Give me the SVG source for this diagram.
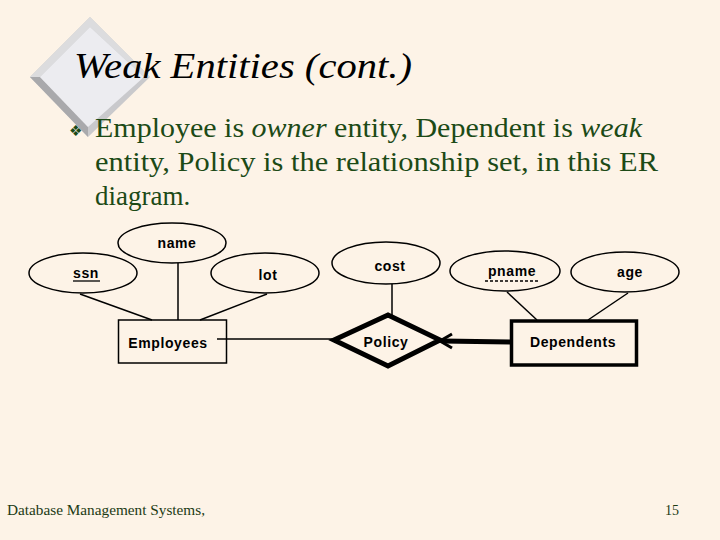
<svg xmlns="http://www.w3.org/2000/svg" width="720" height="540" viewBox="0 0 720 540">
<style>
.er{font-family:"Liberation Sans",Arial,sans-serif;font-size:14px;font-weight:bold;letter-spacing:0.6px;fill:#000;text-anchor:middle}
.ln{stroke:#000;stroke-width:1.5;fill:none}
.body{font-family:"Liberation Serif","Times New Roman",serif;font-size:27px;fill:#1c4a16}
.foot{font-family:"Liberation Serif","Times New Roman",serif;font-size:14px;fill:#1c3a14}
</style>
<rect x="0" y="0" width="720" height="540" fill="#fdf3e7"/>
<g id="deco">
<polygon points="90,17 150,77 88,137 30,77" fill="#c9c9cc"/>
<polygon points="90,17 150,77 144,77 90,27 40,77 30,77" fill="#dcdcde"/>
<polygon points="30,77 88,137 88,127 40,77" fill="#a9a9ac"/>
<polygon points="90,27 144,77 88,127 40,77" fill="#ececf0"/>
</g>
<text id="title" x="74" y="78" font-family="'Liberation Serif','Times New Roman',serif" font-style="italic" font-size="36" fill="#000" textLength="338" lengthAdjust="spacingAndGlyphs">Weak Entities (cont.)</text>
<g id="bullet">
<text x="69" y="136" font-family="'DejaVu Sans',sans-serif" font-size="15" fill="#1c4a16">❖</text>
<text class="body" x="95" y="137" textLength="547" lengthAdjust="spacingAndGlyphs">Employee is <tspan font-style="italic">owner</tspan> entity, Dependent is <tspan font-style="italic">weak</tspan></text>
<text class="body" x="95" y="171" textLength="563" lengthAdjust="spacingAndGlyphs">entity, Policy is the relationship set, in this ER</text>
<text class="body" x="95" y="205">diagram.</text>
</g>
<g id="connectors">
<line class="ln" x1="80" y1="294" x2="152" y2="320"/>
<line class="ln" x1="178" y1="263" x2="178" y2="320"/>
<line class="ln" x1="267" y1="294" x2="200" y2="320"/>
<line class="ln" x1="217" y1="339" x2="334" y2="339"/>
<line class="ln" x1="392" y1="284" x2="392" y2="316"/>
<line class="ln" x1="507" y1="292" x2="537" y2="320"/>
<line class="ln" x1="628" y1="293" x2="588" y2="320"/>
<line x1="511" y1="342" x2="442" y2="341" stroke="#000" stroke-width="5"/>
<polyline points="452,334 440,341 452,348" fill="none" stroke="#000" stroke-width="3"/>
</g>
<g id="ssn">
<ellipse class="ln" cx="83" cy="273" rx="54" ry="20"/>
<text class="er" x="86" y="278">ssn</text>
<line x1="73" y1="281" x2="100" y2="281" stroke="#000" stroke-width="1.3"/>
</g>
<g id="name">
<ellipse class="ln" cx="172" cy="243" rx="54" ry="20"/>
<text class="er" x="177" y="248">name</text>
</g>
<g id="lot">
<ellipse class="ln" cx="265" cy="273" rx="54" ry="20"/>
<text class="er" x="268" y="280">lot</text>
</g>
<g id="employees">
<rect class="ln" x="118.5" y="320" width="108" height="43" fill="none"/>
<text class="er" x="168" y="348">Employees</text>
</g>
<g id="cost">
<ellipse class="ln" cx="386" cy="263" rx="54" ry="21"/>
<text class="er" x="390" y="271">cost</text>
</g>
<g id="policy">
<polygon points="334,340 388,315 440,340 388,366" fill="none" stroke="#000" stroke-width="5" stroke-linejoin="miter"/>
<text class="er" x="386" y="347">Policy</text>
</g>
<g id="pname">
<ellipse class="ln" cx="505" cy="271" rx="55" ry="20"/>
<text class="er" x="512" y="276">pname</text>
<line x1="485" y1="281" x2="539" y2="281" stroke="#000" stroke-width="1.3" stroke-dasharray="3,2"/>
</g>
<g id="age">
<ellipse class="ln" cx="625" cy="272" rx="54" ry="20"/>
<text class="er" x="630" y="277">age</text>
</g>
<g id="dependents">
<rect x="511.5" y="321" width="125" height="44" fill="none" stroke="#000" stroke-width="3.5"/>
<text class="er" x="573" y="347">Dependents</text>
</g>
<text class="foot" x="7" y="515" textLength="198" lengthAdjust="spacingAndGlyphs">Database Management Systems,</text>
<text class="foot" x="665" y="515">15</text>
</svg>
